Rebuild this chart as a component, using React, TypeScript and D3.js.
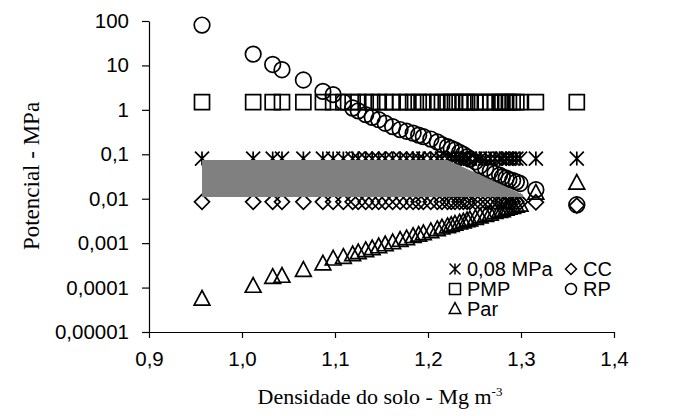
import React, { useEffect, useRef } from "react";
import * as d3 from "d3";

// soil bulk density (Mg m-3) of each sample
const density = [
  0.957, 1.012, 1.033, 1.043, 1.066, 1.087, 1.098, 1.109, 1.119, 1.125, 1.133,
  1.14, 1.147, 1.154, 1.162, 1.17, 1.177, 1.184, 1.19, 1.195, 1.203, 1.21,
  1.215, 1.221, 1.225, 1.229, 1.234, 1.238, 1.242, 1.245, 1.251, 1.256, 1.262,
  1.267, 1.272, 1.277, 1.28, 1.284, 1.287, 1.291, 1.295, 1.299, 1.316, 1.36,
];

// water potential (MPa) per series
const mpa008 = [
  0.08, 0.08, 0.08, 0.08, 0.08, 0.08, 0.08, 0.08, 0.08, 0.08, 0.08, 0.08, 0.08,
  0.08, 0.08, 0.08, 0.08, 0.08, 0.08, 0.08, 0.08, 0.08, 0.08, 0.08, 0.08, 0.08,
  0.08, 0.08, 0.08, 0.08, 0.08, 0.08, 0.08, 0.08, 0.08, 0.08, 0.08, 0.08, 0.08,
  0.08, 0.08, 0.08, 0.08, 0.08,
];
const cc = [
  0.0085, 0.0085, 0.0085, 0.0085, 0.0085, 0.0085, 0.0085, 0.0085, 0.0085,
  0.0085, 0.0085, 0.0085, 0.0085, 0.0085, 0.0085, 0.0085, 0.0085, 0.0085,
  0.0085, 0.0085, 0.0085, 0.0085, 0.0085, 0.0085, 0.0085, 0.0085, 0.0085,
  0.0085, 0.0085, 0.0085, 0.0085, 0.0085, 0.0085, 0.0085, 0.0085, 0.0085,
  0.0085, 0.0085, 0.0085, 0.0085, 0.0085, 0.0085, 0.0083, 0.007,
];
const pmp = [
  1.5, 1.5, 1.5, 1.5, 1.5, 1.5, 1.5, 1.5, 1.5, 1.5, 1.5, 1.5, 1.5, 1.5, 1.5,
  1.5, 1.5, 1.5, 1.5, 1.5, 1.5, 1.5, 1.5, 1.5, 1.5, 1.5, 1.5, 1.5, 1.5, 1.5,
  1.5, 1.5, 1.5, 1.5, 1.5, 1.5, 1.5, 1.5, 1.5, 1.5, 1.5, 1.5, 1.5, 1.5,
];
const rp = [
  81, 18, 10.5, 8, 4.7, 2.6, 2.2, 1.5, 1.1, 0.95, 0.78, 0.68, 0.6, 0.5, 0.42,
  0.36, 0.33, 0.3, 0.27, 0.25, 0.22, 0.19, 0.165, 0.148, 0.135, 0.125, 0.11,
  0.1, 0.087, 0.078, 0.068, 0.055, 0.048, 0.042, 0.037, 0.034, 0.031, 0.029,
  0.027, 0.026, 0.024, 0.022, 0.016, 0.0073,
];
const par = [
  0.000055, 0.000107, 0.00017, 0.00018, 0.000245, 0.00034, 0.00044, 0.00048,
  0.00055, 0.00061, 0.00068, 0.00075, 0.00083, 0.00092, 0.00102, 0.00116,
  0.00126, 0.00141, 0.00151, 0.00164, 0.00182, 0.00202, 0.00219, 0.00236,
  0.0025, 0.00267, 0.00284, 0.003, 0.0032, 0.00335, 0.0036, 0.0039, 0.0042,
  0.0045, 0.0049, 0.0052, 0.0054, 0.0058, 0.0061, 0.0064, 0.0068, 0.0072,
  0.0134, 0.0224,
];

// grey band (upper / lower limit)
const bandDensity = [0.957, 1.221, 1.302];
const bandUpper = [0.074, 0.074, 0.0125];
const bandLower = [0.011, 0.011, 0.011];

const xTicks = [0.9, 1.0, 1.1, 1.2, 1.3, 1.4];
const xTickLabels = ["0,9", "1,0", "1,1", "1,2", "1,3", "1,4"];
const yTicks = [0.00001, 0.0001, 0.001, 0.01, 0.1, 1, 10, 100];
const yTickLabels = ["0,00001", "0,0001", "0,001", "0,01", "0,1", "1", "10", "100"];

const legendItems = [
  { name: "0,08 MPa", shape: "star" },
  { name: "CC", shape: "diamond" },
  { name: "PMP", shape: "square" },
  { name: "RP", shape: "circle" },
  { name: "Par", shape: "triangle" },
];

const W = 688;
const H = 416;
const left = 149;
const right = 614;
const top = 21;
const bottom = 332;

const sans = "Arial, 'Liberation Sans', sans-serif";
const serif = "'Times New Roman', 'Liberation Serif', serif";

// marker path, s = half size
const markerPath = (shape, x, y, s) => {
  switch (shape) {
    case "square":
      return `M${x - s},${y - s}h${2 * s}v${2 * s}h${-2 * s}Z`;
    case "diamond":
      return `M${x},${y - s}L${x + s},${y}L${x},${y + s}L${x - s},${y}Z`;
    case "triangle":
      return `M${x},${y - s * 1.15}L${x + s * 1.05},${y + s * 0.8}L${x - s * 1.05},${y + s * 0.8}Z`;
    case "star":
      return `M${x - s},${y - s}L${x + s},${y + s}M${x + s},${y - s}L${x - s},${y + s}M${x},${y - s}L${x},${y + s}`;
    default:
      return `M${x + s},${y}A${s},${s} 0 1,1 ${x - s},${y}A${s},${s} 0 1,1 ${x + s},${y}Z`;
  }
};

const App = () => {
  const svgRef = useRef();

  useEffect(() => {
    const svg = d3.select(svgRef.current);
    svg.selectAll("*").remove();

    const x = d3.scaleLinear().domain([0.9, 1.4]).range([left, right]);
    const y = d3.scaleLog().domain([0.00001, 100]).range([bottom, top]);

    const series = [
      { values: mpa008, shape: "star", size: 7 },
      { values: cc, shape: "diamond", size: 7.5 },
      { values: pmp, shape: "square", size: 7.5 },
      { values: rp, shape: "circle", size: 7.8 },
      { values: par, shape: "triangle", size: 7.5 },
    ];

    const plot = svg.append("g");
    series.forEach((s) => {
      plot
        .append("g")
        .selectAll("path")
        .data(density)
        .join("path")
        .attr("d", (d, i) => markerPath(s.shape, x(d), y(s.values[i]), s.size))
        .attr("fill", "none")
        .attr("stroke", "#000")
        .attr("stroke-width", 1.7);
    });

    // grey band
    const area = d3
      .area()
      .x((d, i) => x(bandDensity[i]))
      .y0((d, i) => y(bandLower[i]))
      .y1((d, i) => y(bandUpper[i]));
    plot
      .append("path")
      .datum(bandDensity)
      .attr("d", area)
      .attr("fill", "#808080");

    // axes
    const yAxis = d3
      .axisLeft(y)
      .tickValues(yTicks)
      .tickFormat((d, i) => yTickLabels[i])
      .tickSize(7)
      .tickPadding(13)
      .tickSizeOuter(0);
    const gy = svg.append("g").attr("transform", `translate(${left},0)`).call(yAxis);

    const xAxis = d3
      .axisBottom(x)
      .tickValues(xTicks)
      .tickFormat((d, i) => xTickLabels[i])
      .tickSize(6)
      .tickPadding(13)
      .tickSizeOuter(0);
    const gx = svg.append("g").attr("transform", `translate(0,${bottom})`).call(xAxis);

    [gx, gy].forEach((g) => {
      g.select(".domain").attr("stroke", "#000").attr("stroke-width", 1.2);
      g.selectAll(".tick line").attr("stroke", "#000").attr("stroke-width", 1.2);
      g.selectAll(".tick text")
        .attr("fill", "#000")
        .style("font-family", sans)
        .style("font-size", "20.5px");
    });

    // axis titles
    svg
      .append("text")
      .attr("x", 380)
      .attr("y", 404)
      .attr("text-anchor", "middle")
      .style("font-family", serif)
      .style("font-size", "22px")
      .text("Densidade do solo - Mg m")
      .append("tspan")
      .attr("dy", -8)
      .style("font-size", "13px")
      .text("-3");

    svg
      .append("text")
      .attr("transform", "translate(39,176) rotate(-90)")
      .attr("text-anchor", "middle")
      .style("font-family", serif)
      .style("font-size", "23px")
      .text("Potencial - MPa");

    // legend
    const lg = svg.append("g");
    legendItems.forEach((item, i) => {
      const col = i % 2;
      const row = Math.floor(i / 2);
      const mx = col === 0 ? 455 : 571;
      const my = 269 + row * 20;
      lg.append("path")
        .attr("d", markerPath(item.shape, mx, my, 5.5))
        .attr("fill", "none")
        .attr("stroke", "#000")
        .attr("stroke-width", 1.5);
      lg.append("text")
        .attr("x", mx + 12)
        .attr("y", my)
        .attr("dy", "0.35em")
        .style("font-family", sans)
        .style("font-size", "20px")
        .text(item.name);
    });
  }, []);

  return (
    <svg
      ref={svgRef}
      width={W}
      height={H}
      style={{ position: "absolute", left: 0, top: 0, background: "#fff" }}
    ></svg>
  );
};

export default App;
